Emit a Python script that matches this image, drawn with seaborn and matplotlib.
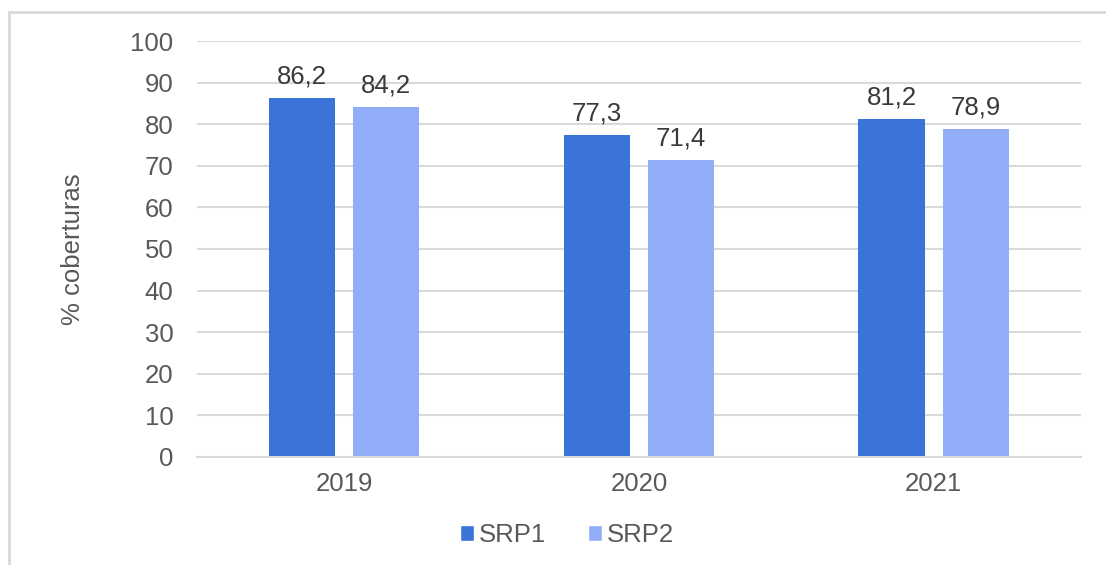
import matplotlib
matplotlib.use("Agg")
import matplotlib.pyplot as plt
import seaborn as sns
import pandas as pd
from matplotlib.patches import Rectangle

years = ["2019", "2020", "2021"]
series = ["SRP1", "SRP2"]
srp1 = [86.2, 77.3, 81.2]
srp2 = [84.2, 71.4, 78.9]
yticks = [0, 10, 20, 30, 40, 50, 60, 70, 80, 90, 100]
ylabel = "% coberturas"

colors = {"SRP1": "#3A74D8", "SRP2": "#91ADF7"}
txt = "#595959"
grid = "#D9D9D9"
fs = 18.5

df = pd.DataFrame({
    "year": years * 2,
    "series": ["SRP1"] * 3 + ["SRP2"] * 3,
    "value": srp1 + srp2,
})

sns.set_theme(style="white")
plt.rcParams["font.family"] = ["Liberation Sans", "DejaVu Sans"]

fig = plt.figure(figsize=(11.06, 5.65), dpi=100)
ax = fig.add_axes([0.178, 0.1912, 0.7994, 0.7362])

sns.barplot(data=df, x="year", y="value", hue="series", order=years,
            hue_order=series, palette=colors, width=0.572, ax=ax,
            saturation=1, legend=True)

# shrink bars to leave a gap between the pair
for p in ax.patches:
    if p.get_height() == 0:
        continue
    w = p.get_width()
    cx = p.get_x() + w / 2
    nw = 0.224
    p.set_x(cx - nw / 2)
    p.set_width(nw)
    p.set_linewidth(0)

for cont in ax.containers:
    labels = [f"{v:.1f}".replace(".", ",") for v in cont.datavalues]
    ax.bar_label(cont, labels=labels, padding=7, fontsize=fs, color="#3A3A3A")

ax.set_ylim(0, 100)
ax.set_yticks(yticks)
ax.set_xlim(-0.5, 2.5)
ax.yaxis.grid(True, color=grid, linewidth=1.5)
ax.set_axisbelow(True)
for s in ["top", "right", "left"]:
    ax.spines[s].set_visible(False)
ax.spines["bottom"].set_color(grid)
ax.spines["bottom"].set_linewidth(1.5)
ax.tick_params(axis="both", length=0, labelsize=fs, labelcolor=txt)
ax.tick_params(axis="y", pad=17)
ax.tick_params(axis="x", pad=11)
ax.set_xlabel("")
ax.set_ylabel(ylabel, fontsize=fs, color=txt)
ax.yaxis.set_label_coords(-0.126, 0.5)

leg = ax.legend(loc="center", bbox_to_anchor=(0.4186, -0.1875), ncol=2, frameon=False,
                fontsize=fs, handlelength=0.55, handleheight=0.55,
                handletextpad=0.2, columnspacing=1.6)
for t in leg.get_texts():
    t.set_color(txt)

fig.patches.append(Rectangle((9 / 1106, -0.1), 1.2, 1 - 12 / 565 + 0.1,
                             transform=fig.transFigure, fill=False,
                             edgecolor=grid, linewidth=2))

fig.savefig("out.png", dpi=100)
